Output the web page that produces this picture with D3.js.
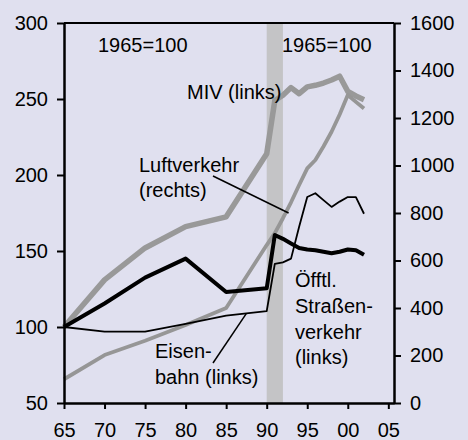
<!DOCTYPE html>
<html><head><meta charset="utf-8">
<script src="https://cdn.jsdelivr.net/npm/d3@7"></script>
<style>
html,body{margin:0;padding:0;background:#e0e0ef;}
svg{display:block;}
text{font-family:"Liberation Sans",Arial,sans-serif;}
</style></head><body>
<svg id="c" width="468" height="440"></svg>
<script>
// ---- data ----
const years       = [1965,1970,1975,1980,1985,1990,1991,1992,1993,1994,1995,1996,1997,1998,1999,2000,2001,2002];
const miv         = [100,131,152,166,172.5,214,249,252.5,257.5,253.5,258,259,260.5,262.5,265,255,252,249.5];
const oeffentl    = [100,115.5,132.5,145,123,125.5,160.5,158,155,152,151,150.5,149.5,148.5,149.5,151,150.5,147.5];
const eisenbahn   = [100,97,97,102,107.5,110.5,141.5,142.5,145,166,185.5,188,183.5,179,182.5,185.5,185.5,174.5];
const luftverkehr = [100,202,262,328,400,665,715,778,845,918,988,1023,1080,1142,1215,1297,1268,1240];
const xTicks      = [1965,1970,1975,1980,1985,1990,1995,2000,2005];
const xTickLabels = ["65","70","75","80","85","90","95","00","05"];
const leftTicks   = [50,100,150,200,250,300];
const rightTicks  = [0,200,400,600,800,1000,1200,1400,1600];
const band        = [1990,1992];

// ---- scales ----
const svg = d3.select("#c");
const x  = d3.scaleLinear().domain([1965,2005.7]).range([64,394]);
const yL = d3.scaleLinear().domain([50,300]).range([403,23]);
const yR = d3.scaleLinear().domain([0,1600]).range([403,23]);

// band
svg.append("rect").attr("x",x(band[0])).attr("width",x(band[1])-x(band[0]))
  .attr("y",yL(300)).attr("height",yL(50)-yL(300)).attr("fill","#c4c4c6");

const lineL = d3.line().x((d,i)=>x(years[i])).y(d=>yL(d));
const lineR = d3.line().x((d,i)=>x(years[i])).y(d=>yR(d));

function draw(data, gen, color, w){
  svg.append("path").datum(data).attr("d",gen).attr("fill","none")
    .attr("stroke",color).attr("stroke-width",w).attr("stroke-linejoin","round");
}
draw(miv, lineL, "#999999", 5.5);
draw(luftverkehr, lineR, "#969696", 3.8);
draw(eisenbahn, lineL, "#000", 1.8);
draw(oeffentl, lineL, "#000", 4);

// axes
const fs = "20px";
function style(g){
  g.select(".domain").attr("stroke","#000").attr("stroke-width",2.5);
  g.selectAll(".tick line").attr("stroke","#000").attr("stroke-width",2);
  g.selectAll("text").attr("font-size",fs).attr("fill","#000")
    .attr("font-family","'Liberation Sans',Arial,sans-serif");
}
svg.append("g").attr("transform","translate(64,0)")
  .call(d3.axisLeft(yL).tickValues(leftTicks).tickFormat(d3.format("d")).tickSize(7).tickSizeOuter(0).tickPadding(9))
  .call(style);
svg.append("g").attr("transform","translate(394,0)")
  .call(d3.axisRight(yR).tickValues(rightTicks).tickFormat(d3.format("d")).tickSize(7).tickSizeOuter(0).tickPadding(9))
  .call(style);
svg.append("g").attr("transform","translate(0,403)")
  .call(d3.axisBottom(x).tickValues(xTicks).tickFormat((d,i)=>xTickLabels[i]).tickSize(6).tickSizeOuter(0).tickPadding(14))
  .call(style);
svg.append("line").attr("x1",64).attr("x2",394).attr("y1",23).attr("y2",23)
  .attr("stroke","#000").attr("stroke-width",2);

// annotations
function txt(s, tx, ty){
  svg.append("text").attr("x",tx).attr("y",ty).attr("font-size",fs).attr("fill","#000").text(s);
}
txt("1965=100", 98, 51.5);
txt("1965=100", 282, 51.5);
txt("MIV (links)", 187, 98.5);
txt("Luftverkehr", 139, 171.5);
txt("(rechts)", 139, 197);
txt("Eisen-", 155, 357.5);
txt("bahn (links)", 155, 383.5);
txt("Öfftl.", 295, 287);
txt("Straßen-", 295, 313);
txt("verkehr", 295, 339);
txt("(links)", 295, 364);

// pointers
svg.append("line").attr("x1",213).attr("y1",176).attr("x2",x(1992.7)).attr("y2",yR(800))
  .attr("stroke","#000").attr("stroke-width",1.5);
svg.append("line").attr("x1",213).attr("y1",363).attr("x2",x(1987.5)).attr("y2",yL(109))
  .attr("stroke","#000").attr("stroke-width",1.5);
</script>
</body></html>
